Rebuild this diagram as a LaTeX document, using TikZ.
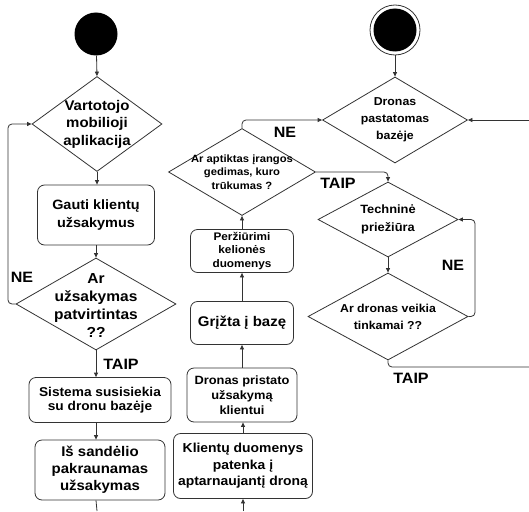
\documentclass[tikz,border=0pt]{standalone}
\usepackage{fontspec}
\setmainfont{Liberation Sans}[FakeStretch=1.07]
\usetikzlibrary{shapes.geometric,arrows.meta}
\newcommand{\fs}[2]{\fontsize{#1}{#2}\selectfont\bfseries}
\begin{document}
\begin{tikzpicture}[x=1pt,y=-1pt,
  ln/.style={draw=black!80,line width=0.8pt},
  arr/.style={ln,-{Triangle[length=4.5pt,width=4pt]}},
  loop/.style={arr,rounded corners=4pt},
  box/.style={ln,rectangle,rounded corners=7pt,inner sep=0pt,align=center},
  dia/.style={ln,diamond,inner sep=0pt},
  txt/.style={inner sep=0pt,align=center},
  lbl/.style={inner sep=0pt,font=\fs{15}{17}}]
\useasboundingbox[fill=white] (0,0) rectangle (529,511);
% left column
\node[circle,fill=black,minimum size=43pt,inner sep=0pt] (c1) at (96,34) {};
\node[dia,minimum width=130pt,minimum height=95pt] (d1) at (97,124) {};
\node[txt,font=\fs{14}{17.5}] (d1t) at (d1) {Vartotojo\\mobilioji\\aplikacija};
\node[box,minimum width=117pt,minimum height=60pt,font=\fs{13.5}{18}] (b1) at (96,215) {Gauti klientų\\užsakymus};
\node[dia,minimum width=160pt,minimum height=92pt] (d2) at (96,304) {};
\node[txt,font=\fs{14.5}{18}] (d2t) at (96,305.5) {Ar\\užsakymas\\patvirtintas\\??};
\node[box,minimum width=142pt,minimum height=45pt,font=\fs{12.8}{14.5}] (b2) at (100,400) {Sistema susisiekia\\su dronu bazėje};
\node[box,minimum width=130pt,minimum height=60pt,font=\fs{14}{17}] (b3) at (100,470) {Iš sandėlio\\pakraunamas\\užsakymas};
\coordinate (e1) at (97,511);
\draw[arr] (c1) -- (d1.north);
\draw[arr] (d1.south) -- (d1.south |- b1.north);
\draw[arr] (b1.south) -- (b1.south |- d2.north);
\draw[arr] (d2.south) -- (d2.south |- b2.north);
\draw[arr] (d2.south |- b2.south) -- (d2.south |- b3.north);
\draw[ln] (d2.south |- b3.south) -- (e1);
\draw[loop] (d2.west) -- (8,304) -- (8,124) -- (d1.west);
\node[lbl] (l1) at (22,277) {NE};
\node[lbl] (l2) at (121,364) {TAIP};
% middle column
\node[box,minimum width=139pt,minimum height=65pt,font=\fs{13}{16.5}] (b4) at (243,466) {Klientų duomenys\\patenka į\\aptarnaujantį droną};
\node[box,minimum width=110pt,minimum height=54pt,font=\fs{12}{15}] (b5) at (242,395) {Dronas pristato\\užsakymą\\klientui};
\node[box,minimum width=103pt,minimum height=43pt,font=\fs{14}{17}] (b6) at (242,323) {Grįžta į bazę};
\node[box,minimum width=103pt,minimum height=43pt,font=\fs{11}{13.3}] (b7) at (242,251) {Peržiūrimi\\kelionės\\duomenys};
\node[dia,minimum width=147pt,minimum height=87pt] (d3) at (242,172) {};
\node[txt,font=\fs{10.5}{13.3}] (d3t) at (d3) {Ar aptiktas įrangos\\gedimas, kuro\\trūkumas ?};
\coordinate (e2) at (243,511);
\draw[arr] (e2) -- (b4.south);
\draw[arr] (b4.north) -- (b4.north |- b5.south);
\draw[arr] (b5.north) -- (b6.south);
\draw[arr] (b6.north) -- (b7.south);
\draw[arr] (b7.north) -- (d3.south);
% right column
\node[circle,draw=black!80,line width=0.8pt,minimum size=50pt,inner sep=0pt] (c2) at (395,30) {};
\node[circle,fill=black,minimum size=43pt,inner sep=0pt] (c2i) at (c2) {};
\node[dia,minimum width=145pt,minimum height=86pt] (d4) at (395,120) {};
\node[txt,font=\fs{11.5}{17}] (d4t) at (d4) {Dronas\\pastatomas\\bazėje};
\node[dia,minimum width=140pt,minimum height=75pt] (d5) at (388,219.5) {};
\node[txt,font=\fs{12}{18}] (d5t) at (d5) {Techninė\\priežiūra};
\node[dia,minimum width=160pt,minimum height=87pt] (d6) at (388,316.5) {};
\node[txt,font=\fs{11.5}{17}] (d6t) at (d6) {Ar dronas veikia\\tinkamai ??};
\coordinate (e3) at (529,120);
\coordinate (e4) at (529,367);
\draw[arr] (c2) -- (d4.north);
\draw[arr] (e3) -- (d4.east);
\draw[arr] (d5.south) -- (d6.north);
\draw[loop] (d3.north) -- (242,120) -- (d4.west);
\draw[loop] (d3.east) -- (388,172) -- (d5.north);
\draw[loop] (d6.east) -- (475,316.5) -- (475,219.5) -- (d5.east);
\draw[ln,rounded corners=4pt] (d6.south) -- (388,367) -- (e4);
\node[lbl] (l3) at (285,132) {NE};
\node[lbl] (l4) at (338,183) {TAIP};
\node[lbl] (l5) at (453,265) {NE};
\node[lbl] (l6) at (411,378) {TAIP};
\end{tikzpicture}
\end{document}
